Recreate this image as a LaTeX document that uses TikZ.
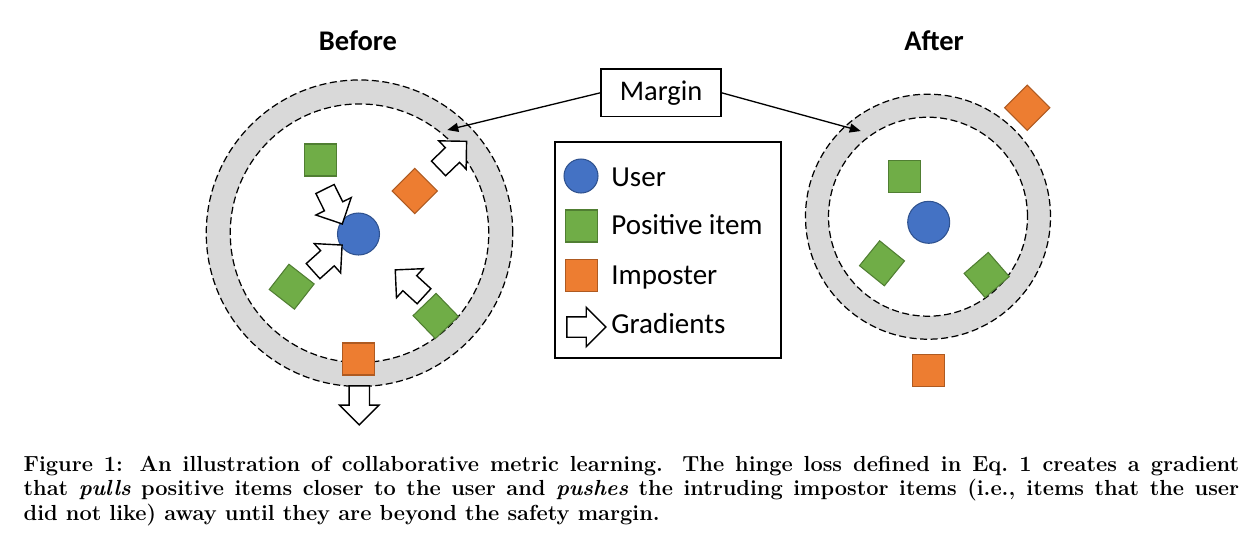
\documentclass[tikz,border=0pt]{standalone}
\usepackage{fontspec}
\newfontfamily\calibri{Carlito}
\usetikzlibrary{shapes.arrows, arrows.meta}
\definecolor{userblue}{HTML}{4472C4}
\definecolor{userline}{HTML}{2F528F}
\definecolor{posgreen}{HTML}{70AD47}
\definecolor{posline}{HTML}{507E32}
\definecolor{imporange}{HTML}{ED7D31}
\definecolor{impline}{HTML}{AE5A21}
\definecolor{ringgray}{HTML}{D9D9D9}

\begin{document}
\begin{tikzpicture}[x=0.2mm, y=-0.2mm,
  user/.style={circle, draw=userline, fill=userblue, line width=0.6pt, minimum size=8.4mm, inner sep=0pt},
  positem/.style={rectangle, draw=posline, fill=posgreen, line width=0.6pt, minimum size=6.4mm, inner sep=0pt},
  imposter/.style={rectangle, draw=impline, fill=imporange, line width=0.6pt, minimum size=6.4mm, inner sep=0pt},
  grad/.style={single arrow, draw=black, fill=white, line width=0.8pt, inner sep=0pt, inner ysep=1.9mm,
    minimum height=7.8mm, single arrow head extend=1.9mm, single arrow tip angle=90},
  ringline/.style={black, line width=0.7pt, dash pattern=on 4pt off 2pt},
  marrow/.style={line width=0.75pt, -{Triangle[length=2.2mm, width=1.8mm]}},
  calfont/.style={font=\calibri\fontsize{16.2}{19}\selectfont},
  legtext/.style={font=\calibri\fontsize{16.5}{19}\selectfont, anchor=base west, inner sep=0pt}
]
  \useasboundingbox (0,0) rectangle (1257,534);

  % titles
  \node[font=\calibri\fontsize{16.2}{19}\selectfont\bfseries, anchor=base, inner sep=0pt] (before) at (358,50) {Before};
  \node[font=\calibri\fontsize{16.2}{19}\selectfont\bfseries, anchor=base, inner sep=0pt] (after) at (934,50) {After};

  % Before: margin ring
  \fill[ringgray, even odd rule] (359.5,233.2) circle[radius=30.65mm] (359.5,233.2) circle[radius=25.85mm];
  \draw[ringline] (359.5,233.2) circle[radius=30.65mm];
  \draw[ringline] (359.5,233.2) circle[radius=25.85mm];

  % Before: user and items
  \node[user] (bUser) at (358.5,234) {};
  \node[positem] (bPosA) at (320.5,160) {};
  \node[positem, rotate=52] (bPosB) at (291.7,286.7) {};
  \node[positem, rotate=44] (bPosC) at (435.7,316) {};
  \node[imposter, rotate=45] (bImpA) at (414.7,191) {};
  \node[imposter] (bImpB) at (358.3,359) {};

  % Before: gradients
  \node[grad, rotate=-63.7] (gPosA) at (331.4,201.9) {};
  \node[grad, rotate=42] (gPosB) at (323.8,261.5) {};
  \node[grad, rotate=137.5] (gPosC) at (413.4,286.5) {};
  \node[grad, rotate=44] (gImpA) at (448.9,158.4) {};
  \node[grad, rotate=-90] (gImpB) at (359.3,400.2) {};

  % After: margin ring
  \fill[ringgray, even odd rule] (928,216.7) circle[radius=24.5mm] (928,216.7) circle[radius=19.9mm];
  \draw[ringline] (928,216.7) circle[radius=24.5mm];
  \draw[ringline] (928,216.7) circle[radius=19.9mm];

  % After: user and items
  \node[user] (aUser) at (928.7,222.3) {};
  \node[positem] (aPosA) at (904.2,176.5) {};
  \node[positem, rotate=51] (aPosB) at (882,263.3) {};
  \node[positem, rotate=41] (aPosC) at (986.7,275) {};
  \node[imposter, rotate=45] (aImpA) at (1027.3,107.7) {};
  \node[imposter] (aImpB) at (928.3,370.7) {};

  % Margin label
  \node[calfont, draw, line width=0.8pt, minimum width=24mm, minimum height=9.5mm, inner sep=0pt] (margin) at (661,92.8) {Margin};
  \coordinate (tipL) at (447.3,130);
  \coordinate (tipR) at (860.7,131);
  \draw[marrow] (margin.west) -- (tipL);
  \draw[marrow] (margin.east) -- (tipR);

  % Legend
  \node[draw, line width=0.8pt, minimum width=45.2mm, minimum height=43.2mm, inner sep=0pt] (legend) at (668,250) {};
  \node[user, minimum size=6.8mm] (lgUser) at (581,176) {};
  \node[positem] (lgPos) at (581.5,226) {};
  \node[imposter] (lgImp) at (581.5,275.2) {};
  \node[grad] (lgGrad) at (581.3,327) {};
  \node[legtext] (txUser) at (611,186) {User};
  \node[legtext] (txPos) at (611,234.5) {Positive item};
  \node[legtext] (txImp) at (611,284) {Imposter};
  \node[legtext] (txGrad) at (611,333.5) {Gradients};

  % Caption
  \node[anchor=base west, text width=24.31cm, align=justify, inner sep=0pt,
    font=\fontsize{12.4}{14.1}\selectfont\bfseries] (caption) at (23.3,471) {Figure 1: An illustration of collaborative metric learning. The hinge loss defined in Eq.\ 1 creates a gradient\linebreak
    that \textit{pulls} positive items closer to the user and \textit{pushes} the intruding impostor items (i.e., items that the user\linebreak
    did not like) away until they are beyond the safety margin.};
\end{tikzpicture}
\end{document}
